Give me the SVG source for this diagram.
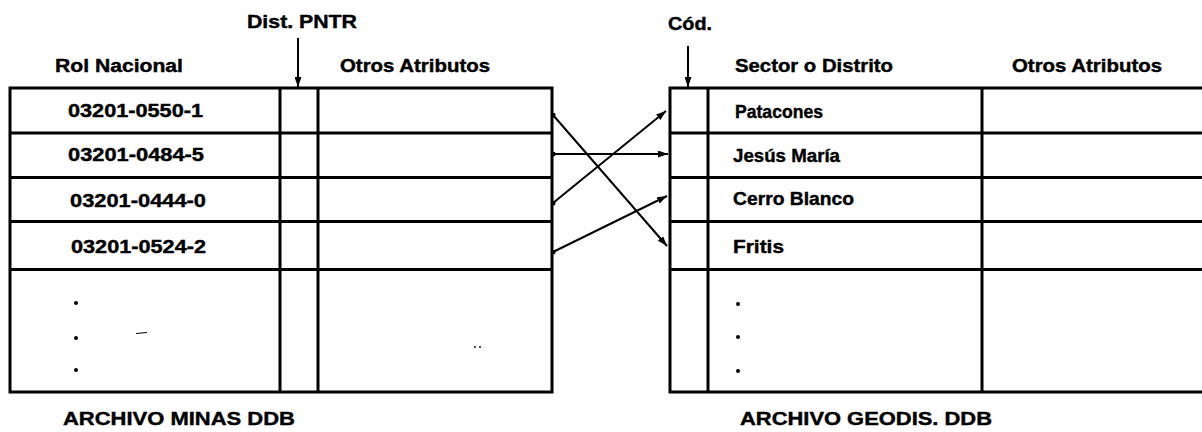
<svg xmlns="http://www.w3.org/2000/svg" width="1202" height="432" viewBox="0 0 1202 432">
  <style>
    .lbl { font-family: "Liberation Sans", Arial, sans-serif; font-weight: bold; font-size: 18px; fill: #000; stroke: #000; stroke-width: 0.4; }
    .frame { fill: none; stroke: #000; stroke-width: 3; }
    .rule { stroke: #000; stroke-width: 2.8; fill: none; }
    .col { stroke: #000; stroke-width: 3; fill: none; }
    .link { stroke: #000; stroke-width: 2; fill: none; marker-end: url(#head); marker-start: url(#dot); }
    .pointer { stroke: #000; stroke-width: 2; fill: none; marker-end: url(#head); }
    .speck { fill: #000; }
  </style>
  <defs>
    <marker id="head" viewBox="0 0 10 7" refX="10" refY="3.5" markerWidth="10" markerHeight="7" markerUnits="userSpaceOnUse" orient="auto">
      <path d="M0,0 L10,3.5 L0,7 Z" fill="#000"/>
    </marker>
    <marker id="dot" viewBox="0 0 6 6" refX="3" refY="3" markerWidth="5" markerHeight="5" markerUnits="userSpaceOnUse">
      <circle cx="3" cy="3" r="3" fill="#000"/>
    </marker>
  </defs>

  <rect width="1202" height="432" fill="#fff"/>

  <!-- Left file: ARCHIVO MINAS DDB -->
  <g id="archivo-minas">
    <text class="lbl" x="247" y="28" textLength="110" lengthAdjust="spacingAndGlyphs">Dist. PNTR</text>
    <text class="lbl" x="55" y="72" textLength="128" lengthAdjust="spacingAndGlyphs">Rol Nacional</text>
    <text class="lbl" x="340" y="72" textLength="150" lengthAdjust="spacingAndGlyphs">Otros Atributos</text>
    <rect class="frame" x="10" y="88" width="542" height="304"/>
    <line class="col" x1="280" y1="88" x2="280" y2="392"/>
    <line class="col" x1="318" y1="88" x2="318" y2="392"/>
    <line class="rule" x1="10" y1="133" x2="552" y2="133"/>
    <line class="rule" x1="10" y1="177.5" x2="552" y2="177.5"/>
    <line class="rule" x1="10" y1="221.5" x2="552" y2="221.5"/>
    <line class="rule" x1="10" y1="269.5" x2="552" y2="269.5"/>
    <g id="rol-0550">
      <text class="lbl" x="68" y="117" textLength="135" lengthAdjust="spacingAndGlyphs">03201-0550-1</text>
    </g>
    <g id="rol-0484">
      <text class="lbl" x="68" y="161" textLength="136" lengthAdjust="spacingAndGlyphs">03201-0484-5</text>
    </g>
    <g id="rol-0444">
      <text class="lbl" x="70" y="207" textLength="136" lengthAdjust="spacingAndGlyphs">03201-0444-0</text>
    </g>
    <g id="rol-0524">
      <text class="lbl" x="71" y="253" textLength="135" lengthAdjust="spacingAndGlyphs">03201-0524-2</text>
    </g>
    <g id="rol-more">
      <circle class="speck" cx="76" cy="303" r="2"/>
      <circle class="speck" cx="76" cy="338" r="2"/>
      <circle class="speck" cx="76" cy="370" r="2"/>
      <path d="M136,333.5 L147,332.5" stroke="#000" stroke-width="1.2"/>
      <circle class="speck" cx="475" cy="347" r="0.9"/>
      <circle class="speck" cx="480" cy="347" r="0.9"/>
    </g>
    <text class="lbl" x="63" y="425" textLength="232" lengthAdjust="spacingAndGlyphs">ARCHIVO MINAS DDB</text>
  </g>

  <!-- Right file: ARCHIVO GEODIS. DDB -->
  <g id="archivo-geodis">
    <text class="lbl" x="668" y="30" textLength="44" lengthAdjust="spacingAndGlyphs">Cód.</text>
    <text class="lbl" x="735" y="72" textLength="158" lengthAdjust="spacingAndGlyphs">Sector o Distrito</text>
    <text class="lbl" x="1012" y="72" textLength="150" lengthAdjust="spacingAndGlyphs">Otros Atributos</text>
    <path class="frame" d="M1210,88 H670 V392 H1210"/>
    <line class="col" x1="708" y1="88" x2="708" y2="392"/>
    <line class="col" x1="982" y1="88" x2="982" y2="392"/>
    <line class="rule" x1="670" y1="133" x2="1210" y2="133"/>
    <line class="rule" x1="670" y1="177.5" x2="1210" y2="177.5"/>
    <line class="rule" x1="670" y1="221.5" x2="1210" y2="221.5"/>
    <line class="rule" x1="670" y1="269.5" x2="1210" y2="269.5"/>
    <g id="sector-patacones">
      <text class="lbl" x="735" y="118" textLength="88" lengthAdjust="spacingAndGlyphs">Patacones</text>
    </g>
    <g id="sector-jesus-maria">
      <text class="lbl" x="733" y="162" textLength="107" lengthAdjust="spacingAndGlyphs">Jesús María</text>
    </g>
    <g id="sector-cerro-blanco">
      <text class="lbl" x="733" y="205" textLength="121" lengthAdjust="spacingAndGlyphs">Cerro Blanco</text>
    </g>
    <g id="sector-fritis">
      <text class="lbl" x="733" y="253" textLength="51" lengthAdjust="spacingAndGlyphs">Fritis</text>
    </g>
    <g id="sector-more">
      <circle class="speck" cx="738" cy="304" r="2"/>
      <circle class="speck" cx="738" cy="337" r="2"/>
      <circle class="speck" cx="738" cy="371" r="2"/>
    </g>
    <text class="lbl" x="740" y="425" textLength="252" lengthAdjust="spacingAndGlyphs">ARCHIVO GEODIS. DDB</text>
  </g>

  <!-- Pointers and district links -->
  <g id="connectors">
    <line class="pointer" x1="298" y1="38" x2="298" y2="87"/>
    <line class="pointer" x1="688" y1="46" x2="688" y2="87"/>
    <line class="link" x1="553" y1="115" x2="667" y2="246"/>
    <line class="link" x1="553" y1="154" x2="668" y2="154"/>
    <line class="link" x1="553" y1="203" x2="666" y2="111"/>
    <line class="link" x1="553" y1="252" x2="667" y2="196"/>
  </g>
</svg>
